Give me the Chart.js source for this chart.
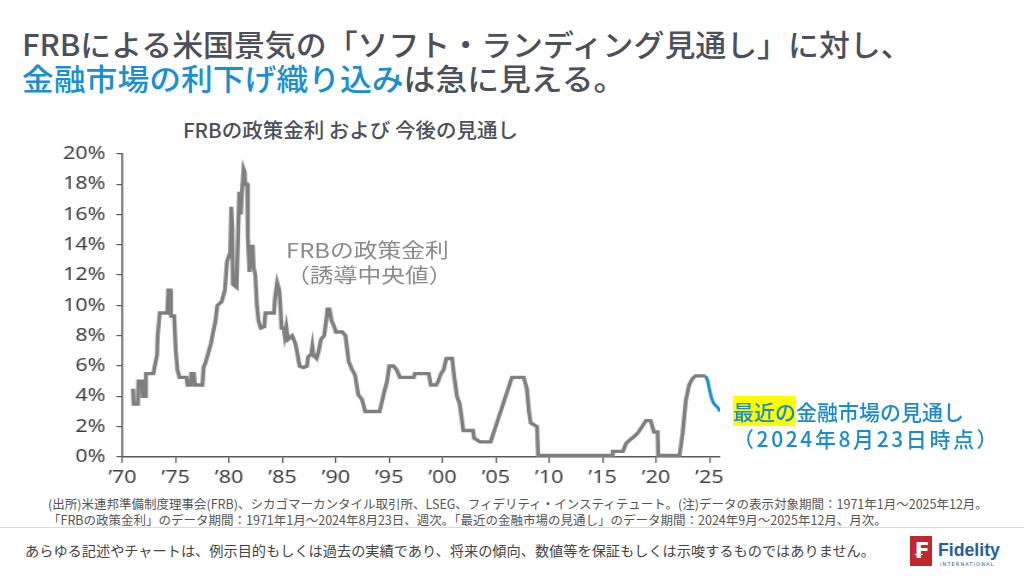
<!DOCTYPE html>
<html lang="ja">
<head>
<meta charset="UTF-8">
<title>FRBの政策金利 および 今後の見通し</title>
<script src="https://cdn.jsdelivr.net/npm/chart.js"></script>
<style>
  body {
    margin: 0;
    width: 1024px;
    height: 576px;
    position: relative;
    overflow: hidden;
    background: #fff;
    font-family: "Noto Sans CJK JP", "Noto Sans", sans-serif;
  }
  .txt { position: absolute; white-space: nowrap; line-height: 1; }
  .title { left: 22px; font-size: 30px; font-weight: 500; color: #4b505a; transform-origin: 0 0; }
  .blue { color: #1a90d0; }
  #chartTitle { left: 183px; top: 119px; font-size: 20.5px; font-weight: 500; color: #4b505a; }
  #frbLabel { left: 286px; top: 237px; font-size: 20px; line-height: 25px; color: #8a8a8a; transform: scaleX(1.19); transform-origin: 0 0; }
  #outlookLabel { left: 733px; top: 398px; font-size: 21px; line-height: 27px; color: #1a8cce; font-weight: 500; }
  #outlookLabel .mark { background: #ffff00; }
  #outlookLabel .date { letter-spacing: 2.6px; }
  .note { left: 48px; font-size: 12.5px; color: #555; }
  #rule { position: absolute; left: 0; top: 527px; width: 1024px; height: 1px; background: #dcdcdc; }
  #disclaimer { left: 25px; top: 543px; font-size: 14.2px; color: #444; }
  #logoBox { position: absolute; left: 910px; top: 536px; width: 22px; height: 30px; background: #c0282d; color: #fff;
             font: bold 22px "DejaVu Sans", sans-serif; text-align: center; line-height: 30px; }
  #logoText { left: 938px; top: 539px; font: bold 19px "Liberation Sans", sans-serif; color: #24609f; transform: scaleX(0.93); transform-origin: 0 0; }
  #logoSub { left: 940px; top: 561px; font: 5px "DejaVu Sans", sans-serif; color: #24609f; letter-spacing: 1.1px; }
  #chartWrap { position: absolute; left: 0; top: 134px; transform: scaleX(1.2); transform-origin: 0 0; }
</style>
</head>
<body>
  <div class="txt title" style="top:28px; transform: scaleX(1.03)">FRBによる米国景気の「ソフト・ランディング見通し」に対し、</div>
  <div class="txt title" style="top:62px; transform: scaleX(1.06)"><span class="blue">金融市場の利下げ織り込み</span>は急に見える。</div>

  <div class="txt" id="chartTitle">FRBの政策金利 および 今後の見通し</div>

  <div id="chartWrap"><canvas id="rateChart" width="620" height="353"></canvas></div>

  <div class="txt" id="frbLabel">FRBの政策金利<br>（誘導中央値）</div>
  <div class="txt" id="outlookLabel"><span class="mark">最近の</span>金融市場の見通し<br><span class="date">（2024年8月23日時点）</span></div>

  <div class="txt note" style="top:498px">(出所)米連邦準備制度理事会(FRB)、シカゴマーカンタイル取引所、LSEG、フィデリティ・インスティテュート。(注)データの表示対象期間：1971年1月～2025年12月。</div>
  <div class="txt note" style="top:514px">「FRBの政策金利」のデータ期間：1971年1月～2024年8月23日、週次。「最近の金融市場の見通し」のデータ期間：2024年9月～2025年12月、月次。</div>
  <div id="rule"></div>
  <div class="txt" id="disclaimer">あらゆる記述やチャートは、例示目的もしくは過去の実績であり、将来の傾向、数値等を保証もしくは示唆するものではありません。</div>
  <div id="logoBox">₣</div>
  <div class="txt" id="logoText">Fidelity</div>
  <div class="txt" id="logoSub">INTERNATIONAL</div>

<script>
// FRB policy rate (target midpoint)
var rateYears = [
  1971.0, 1971.05, 1971.45, 1971.5, 1971.85, 1971.9, 1972.15, 1972.2, 1972.9, 1973.1,
  1973.25, 1973.3, 1973.5, 1974.2, 1974.3, 1974.5, 1974.55, 1974.85, 1975.0, 1975.15,
  1975.35, 1976.0, 1976.1, 1976.4, 1976.45, 1976.7, 1976.8, 1977.5, 1977.6, 1977.8,
  1978.0, 1978.3, 1978.5, 1978.7, 1978.9, 1979.3, 1979.6, 1979.8, 1980.1, 1980.2,
  1980.3, 1980.35, 1980.7, 1980.85, 1980.95, 1981.1, 1981.2, 1981.35, 1981.45, 1981.5,
  1981.7, 1981.75, 1981.9, 1982.0, 1982.1, 1982.2, 1982.3, 1982.45, 1982.6, 1982.75,
  1982.95, 1983.3, 1983.4, 1984.2, 1984.3, 1984.5, 1984.7, 1984.8, 1984.9, 1985.1,
  1985.2, 1985.35, 1985.5, 1985.9, 1986.2, 1986.4, 1986.6, 1986.95, 1987.3, 1987.4,
  1987.7, 1987.8, 1987.9, 1988.2, 1988.4, 1988.6, 1988.9, 1989.1, 1989.2, 1989.4,
  1989.6, 1989.9, 1990.0, 1990.6, 1990.9, 1991.2, 1991.5, 1991.8, 1992.1, 1992.45,
  1992.75, 1994.1, 1994.5, 1994.8, 1995.0, 1995.4, 1995.7, 1996.0, 1997.3, 1997.4,
  1998.7, 1998.9, 1999.4, 1999.6, 1999.85, 2000.1, 2000.35, 2000.9, 2001.05, 2001.35,
  2001.6, 2001.95, 2002.85, 2002.95, 2003.5, 2004.5, 2006.5, 2007.6, 2007.9, 2008.1,
  2008.25, 2008.85, 2008.95, 2015.9, 2015.95, 2016.9, 2017.2, 2017.5, 2017.95, 2018.3,
  2018.6, 2019.05, 2019.5, 2019.8, 2020.15, 2020.2, 2022.2, 2022.5, 2022.8, 2023.1,
  2023.4, 2023.7, 2024.65
];
var rateValues = [
  4.5, 3.5, 3.5, 5.0, 5.0, 4.0, 4.0, 5.5, 5.5, 6.25,
  6.75, 8.0, 9.5, 9.5, 11.0, 11.0, 9.3, 9.3, 7.0, 5.75,
  5.25, 5.25, 4.75, 4.75, 5.5, 5.5, 4.75, 4.75, 5.9, 6.25,
  6.75, 7.5, 8.25, 8.9, 10.0, 10.25, 11.0, 12.9, 13.5, 16.5,
  15.0, 11.4, 11.2, 15.0, 17.5, 16.0, 17.5, 19.0, 18.8, 18.0,
  18.0, 14.5, 12.2, 14.0, 12.5, 14.0, 12.5, 12.0, 10.0, 9.0,
  8.5, 8.6, 9.5, 9.5, 10.5, 11.5, 11.0, 10.0, 8.5, 8.5,
  8.0, 8.6, 7.75, 8.0, 7.5, 6.8, 6.0, 5.9, 6.0, 6.6,
  6.8, 7.3, 6.7, 6.5, 7.0, 7.75, 8.0, 9.0, 9.75, 9.75,
  9.0, 8.5, 8.25, 8.25, 8.0, 6.3, 5.8, 5.4, 4.1, 3.8,
  3.0, 3.0, 4.2, 5.0, 6.0, 6.0, 5.75, 5.25, 5.25, 5.5,
  5.5, 4.75, 4.75, 5.0, 5.5, 5.75, 6.5, 6.5, 5.5, 4.0,
  3.5, 1.75, 1.75, 1.25, 1.0, 1.0, 5.25, 5.25, 4.5, 3.0,
  2.25, 2.0, 0.1, 0.1, 0.37, 0.37, 0.9, 1.1, 1.35, 1.6,
  1.9, 2.4, 2.4, 1.65, 1.65, 0.1, 0.1, 1.6, 3.75, 4.75,
  5.15, 5.35, 5.35
];

// market-implied path (monthly), as of 2024-08-23
var outlookYears = [2024.65, 2024.85, 2025.0, 2025.2, 2025.45, 2025.8, 2026.0];
var outlookValues = [5.35, 5.0, 4.5, 3.9, 3.5, 3.25, 3.0];

var xTickYears = [1970, 1975, 1980, 1985, 1990, 1995, 2000, 2005, 2010, 2015, 2020, 2025];
var yTickValues = [0, 2, 4, 6, 8, 10, 12, 14, 16, 18, 20];

function toPoints(xs, ys) {
  return xs.map(function (x, i) { return { x: x, y: ys[i] }; });
}

var axisColor = '#595959';

new Chart(document.getElementById('rateChart'), {
  type: 'line',
  data: {
    datasets: [
      {
        label: 'FRBの政策金利',
        data: toPoints(rateYears, rateValues),
        borderColor: '#7f7f7f',
        borderWidth: 3.4,
        pointRadius: 0,
        borderJoinStyle: 'miter'
      },
      {
        label: '最近の金融市場の見通し',
        data: toPoints(outlookYears, outlookValues),
        borderColor: '#1a8cce',
        borderWidth: 2.8,
        pointRadius: 0,
        tension: 0.35
      }
    ]
  },
  options: {
    responsive: false,
    animation: false,
    layout: { padding: { top: 13, right: 20, left: 0, bottom: 0 } },
    plugins: { legend: { display: false }, tooltip: { enabled: false } },
    scales: {
      x: {
        type: 'linear',
        min: 1970,
        max: 2026,
        afterBuildTicks: function (scale) {
          scale.ticks = xTickYears.map(function (v) { return { value: v }; });
        },
        afterFit: function (scale) { scale.height = 30; },
        border: { display: true, color: axisColor, width: 1.5 },
        grid: { drawOnChartArea: false, drawTicks: true, tickLength: 6, color: axisColor, lineWidth: 1.2 },
        ticks: {
          maxRotation: 0,
          autoSkip: false,
          padding: 4,
          color: '#404040',
          font: { family: 'Noto Sans', size: 18 },
          callback: function (v) { return '\u2019' + String(v).slice(2); }
        }
      },
      y: {
        min: 0,
        max: 20,
        afterBuildTicks: function (scale) {
          scale.ticks = yTickValues.map(function (v) { return { value: v }; });
        },
        afterFit: function (scale) { scale.width = 102; },
        border: { display: true, color: axisColor, width: 1.5 },
        grid: { drawOnChartArea: false, drawTicks: true, tickLength: 5, color: axisColor, lineWidth: 1.2 },
        ticks: {
          padding: 9,
          color: '#404040',
          font: { family: 'Noto Sans', size: 18 },
          callback: function (v) { return v + '%'; }
        }
      }
    }
  }
});
</script>
</body>
</html>
